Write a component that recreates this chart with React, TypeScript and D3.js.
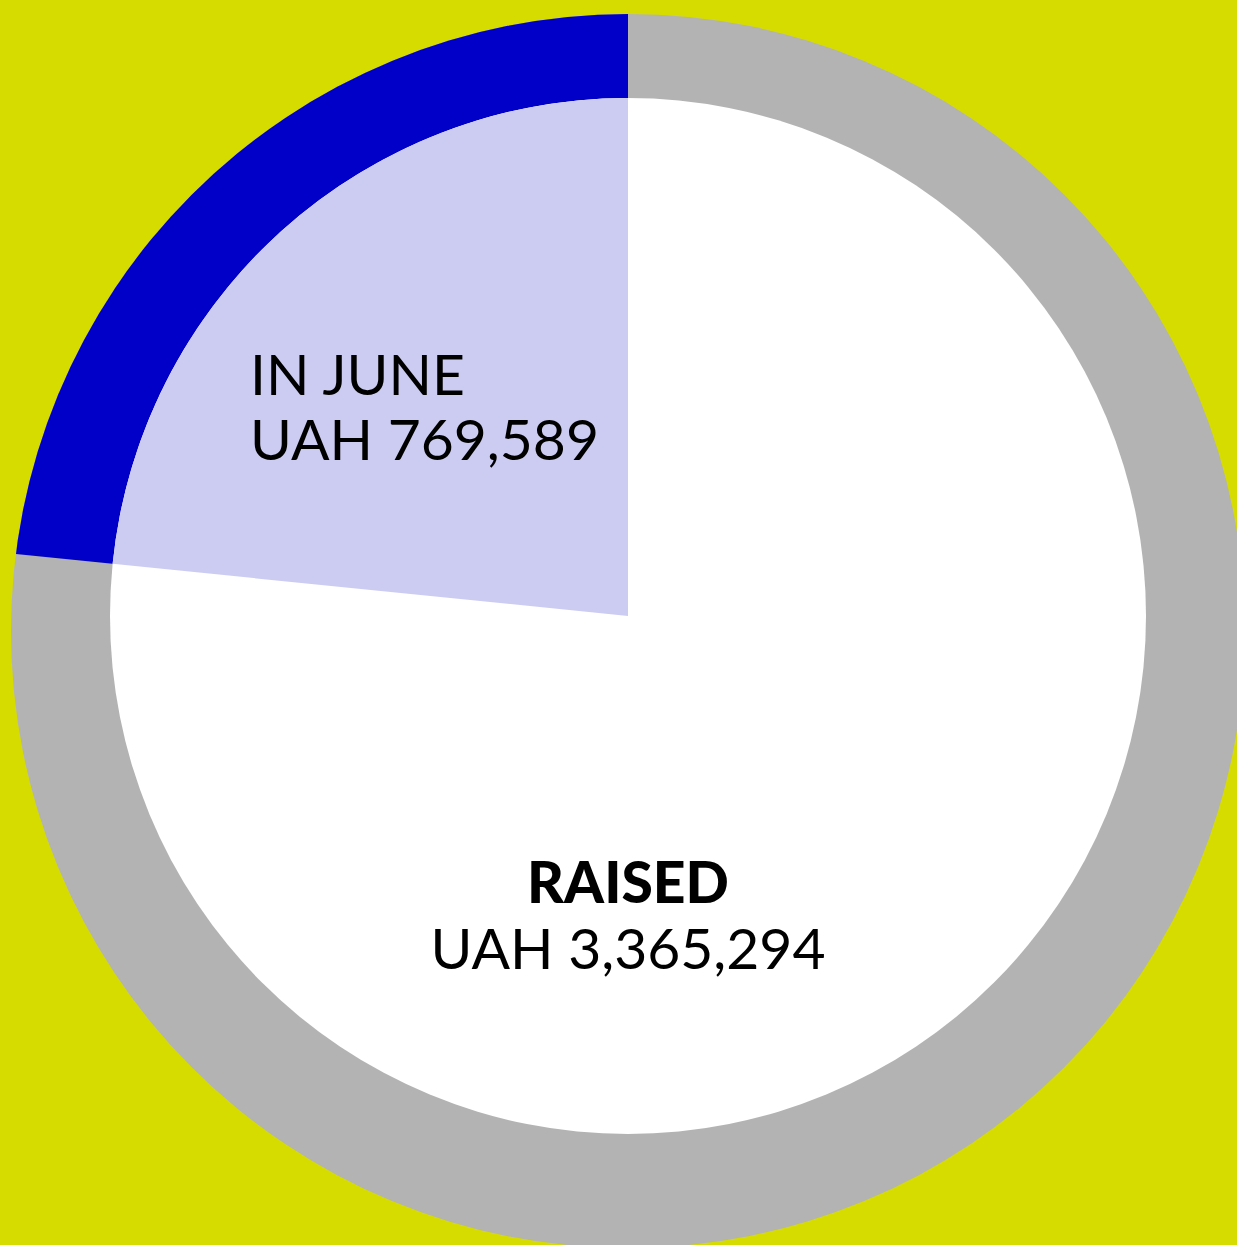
import React from 'react';
import * as d3 from 'd3';

// values
const segments = ['IN JUNE', 'EARLIER'];
const amounts = [769589, 2520000]; // second value
const raisedTotal = 3365294;
const juneLabel = ['IN JUNE', 'UAH 769,589'];
const raisedLabel = ['RAISED', 'UAH 3,365,294'];

const W = 1237;
const H = 1245;
const cx = 628;
const cy = 616;
const innerR = 518;
const ringCy = 631;
const ringR = 617;

const BG = '#d6dc00';
const GREY = '#b3b3b3';
const BLUE = '#0000c8';
const LAV = '#ccccf2';

const fmt = d3.format(',');

export default function App() {
  const pie = d3
    .pie<number>()
    .sort(null)
    .startAngle(0)
    .endAngle(-2 * Math.PI)
    .value((d) => d);
  const arcs = pie(amounts);
  const june = arcs[0];

  const outerArc = d3.arc<d3.PieArcDatum<number>>().innerRadius(0).outerRadius(700);
  const innerArc = d3.arc<d3.PieArcDatum<number>>().innerRadius(0).outerRadius(innerR);

  const font = 'Lato, "Noto Sans", sans-serif';

  return (
    <div style={{ position: 'absolute', left: 0, top: 0 }}>
      <svg width={W} height={H} style={{ display: 'block' }}>
        <defs>
          <clipPath id="ring">
            <circle cx={cx} cy={ringCy} r={ringR} />
          </clipPath>
        </defs>
        <rect width={W} height={H} fill={BG} />
        <circle cx={cx} cy={ringCy} r={ringR} fill={GREY} />
        <g clipPath="url(#ring)">
          <path transform={`translate(${cx},${cy})`} d={outerArc(june) || ''} fill={BLUE} />
        </g>
        <g transform={`translate(${cx},${cy})`}>
          <circle r={innerR} fill="#fff" />
          <path d={innerArc(june) || ''} fill={LAV} />
        </g>
        <g fontFamily={font} fill="#000" data-segment={segments[0]}>
          <text x={250} y={395} fontSize={57}>{juneLabel[0]}</text>
          <text x={250} y={460} fontSize={57}>{'UAH ' + fmt(amounts[0])}</text>
        </g>
        <g fontFamily={font} fill="#000" textAnchor="middle">
          <text x={cx} y={903} fontSize={57} fontWeight={900}>{raisedLabel[0]}</text>
          <text x={cx} y={969} fontSize={57}>{'UAH ' + fmt(raisedTotal)}</text>
        </g>
      </svg>
    </div>
  );
}
